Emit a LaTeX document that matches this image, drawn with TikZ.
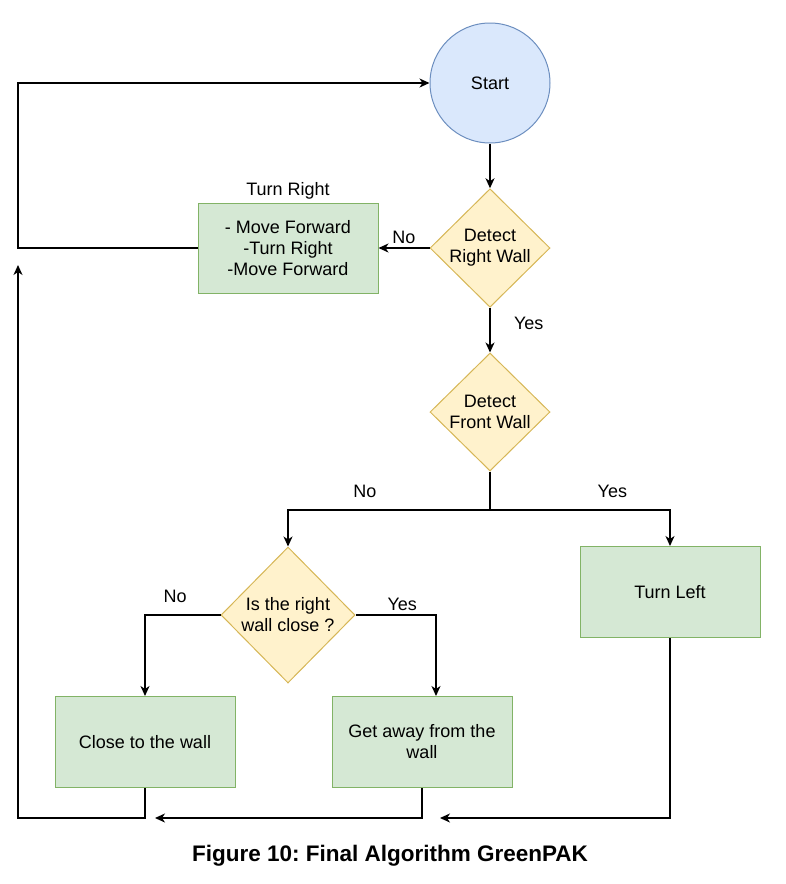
\documentclass[tikz,border=0pt]{standalone}
\usepackage{fontspec}
\setmainfont{Liberation Sans}
\frenchspacing
\usetikzlibrary{shapes.geometric,arrows.meta,positioning}
\definecolor{startfill}{HTML}{DAE8FC}
\definecolor{startline}{HTML}{6C8EBF}
\definecolor{decfill}{HTML}{FFF2CC}
\definecolor{decline}{HTML}{D6B656}
\definecolor{procfill}{HTML}{D5E8D4}
\definecolor{procline}{HTML}{82B366}
\tikzset{
 every node/.style={font=\fontsize{18}{21}\selectfont},
 startnode/.style={circle,draw=startline,fill=startfill,minimum size=120pt,line width=1pt},
 decision/.style={diamond,draw=decline,fill=decfill,inner sep=0pt,align=center,minimum width=120pt,minimum height=118pt,line width=1pt},
 process/.style={rectangle,draw=procline,fill=procfill,align=center,minimum width=180pt,minimum height=91pt,line width=1pt},
 flow/.style={line width=1.5pt,-{Stealth[length=10pt,width=9pt,inset=3pt]}},
 wire/.style={line width=1.5pt}
}

\begin{document}
\begin{tikzpicture}[x=1pt,y=-1pt]
\useasboundingbox (0,0) rectangle (785,884);

\node[startnode] (start) at (490,83) {Start};
\node[decision] (rwall) at (490,248) {Detect\\Right Wall};
\node[process,minimum height=90pt,label={above:Turn Right}] (tright) at (288,248) {- Move Forward\\-Turn Right\\-Move Forward};
\node[decision] (fwall) at (490,412) {Detect\\Front Wall};
\node[decision,minimum width=134pt,minimum height=136pt] (wclose) at (288,615) {Is the right\\wall close ?};
\node[process] (tleft) at (670,592) {Turn Left};
\node[process] (towall) at (145,742) {Close to the wall};
\node[process] (away) at (422,742) {Get away from the\\wall};
\node[font=\bfseries\fontsize{22.5}{27}\selectfont] (caption) at (390,856) {Figure 10: Final Algorithm GreenPAK};

\coordinate (topl) at (18,83);
\coordinate (split) at (490,510);
\coordinate (botl) at (18,818);
\coordinate (upl) at (18,265);
\coordinate (ret1) at (155,818);
\coordinate (ret2) at (440,818);

\draw[flow] (start) -- (rwall);
\draw[flow] (rwall.west) -- node[above] {No} (tright.east);
\draw[flow] (rwall.south) -- node[pos=0.35,right=20pt] {Yes} (fwall.north);
\draw[flow] (tright.west) -| (topl) -- (start.west);

\draw[wire] (fwall.south) -- (split);
\draw[flow] (split) -| node[pos=0.31,above=8pt] {No} (wclose.north);
\draw[flow] (split) -| node[pos=0.34,above=8pt] {Yes} (tleft.north);

\draw[flow] (wclose.west) -| node[pos=0.3,above=8pt] {No} (towall.north);
\draw[flow] (wclose.east) -| node[pos=0.29,above] {Yes} ([xshift=14pt]away.north);

\draw[flow] (towall.south) |- (botl) -- (upl);
\draw[flow] (away.south) |- (ret1);
\draw[flow] (tleft.south) |- (ret2);
\end{tikzpicture}
\end{document}
